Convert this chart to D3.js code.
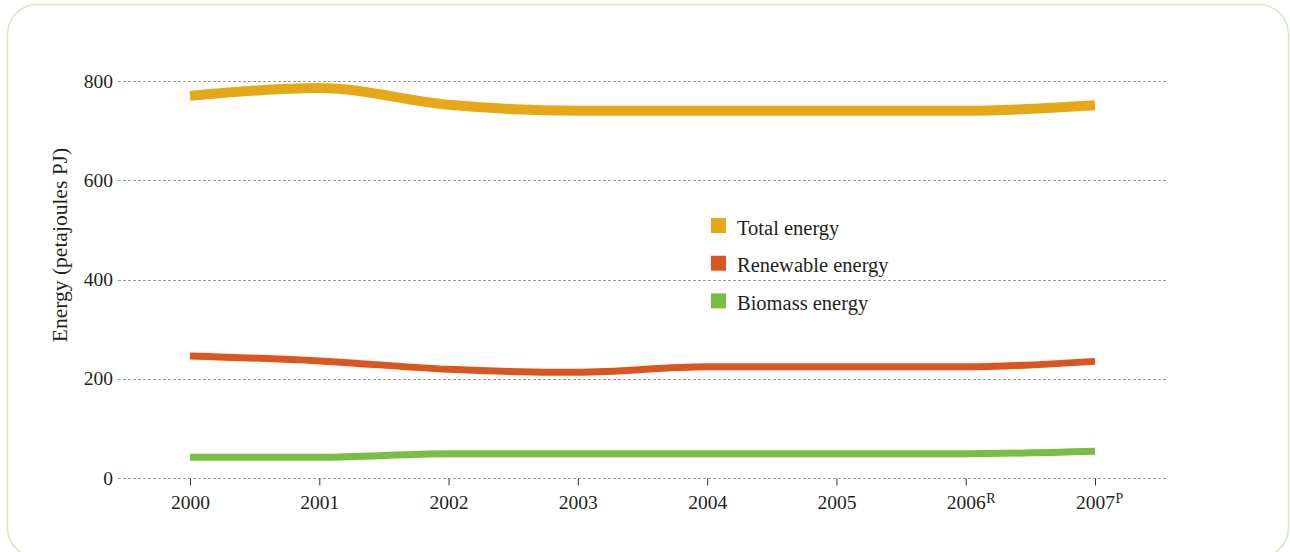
<!DOCTYPE html>
<html>
<head>
<meta charset="utf-8">
<script src="https://cdn.jsdelivr.net/npm/d3@7"></script>
<style>
  html, body { margin: 0; padding: 0; background: #fff; }
  svg { display: block; }
</style>
</head>
<body>
<svg id="d3-canvas" width="1290" height="552"></svg>
<script>
// Energy supply series, petajoules
const years = [2000, 2001, 2002, 2003, 2004, 2005, 2006, 2007];
const yearSuffix = ["", "", "", "", "", "", "R", "P"];
const totalEnergy = [770, 786, 752, 740, 740, 740, 740, 751];
const renewableEnergy = [246, 236, 219, 213, 224, 224, 224, 235];
const biomassEnergy = [42, 42, 49, 49, 49, 49, 49, 54];
const yTicks = [0, 200, 400, 600, 800];
const seriesNames = ["Total energy", "Renewable energy", "Biomass energy"];

const colors = ["#e6a817", "#da5520", "#78be43"];
const widths = [10, 7, 7];
const font = "'Liberation Serif', 'DejaVu Serif', serif";
const ink = "#231f20";

const svg = d3.select("#d3-canvas");

// rounded frame
svg.append("rect")
    .attr("x", 7.5)
    .attr("y", 4.5)
    .attr("width", 1281)
    .attr("height", 553)
    .attr("rx", 30)
    .attr("fill", "none")
    .attr("stroke", "#d3e9c2")
    .attr("stroke-width", 1.5);

const x = d3.scaleLinear().domain([2000, 2007]).range([190, 1095]);
const y = d3.scaleLinear().domain([0, 800]).range([478, 81]);

// gridlines
svg.append("g")
    .selectAll("line")
    .data(yTicks)
    .join("line")
    .attr("x1", 118)
    .attr("x2", 1166)
    .attr("y1", d => Math.round(y(d)) + 0.5)
    .attr("y2", d => Math.round(y(d)) + 0.5)
    .attr("stroke", "#9a9a9a")
    .attr("stroke-width", 1)
    .attr("stroke-dasharray", "3,2");

// y tick labels
svg.append("g")
    .selectAll("text")
    .data(yTicks)
    .join("text")
    .attr("x", 113)
    .attr("y", d => y(d))
    .attr("dy", "0.34em")
    .attr("text-anchor", "end")
    .attr("font-family", font)
    .attr("font-size", 19.5)
    .attr("fill", ink)
    .text(d => d);

// x axis ticks + labels
const xAxis = svg.append("g")
    .attr("transform", `translate(0,${Math.round(y(0)) + 0.5})`)
    .call(d3.axisBottom(x).tickValues(years).tickFormat(d3.format("d")).tickSize(7).tickPadding(10));
xAxis.select(".domain").remove();
xAxis.selectAll(".tick line").attr("stroke", "#333").attr("stroke-width", 1);
xAxis.selectAll(".tick text")
    .attr("font-family", font)
    .attr("font-size", 19.5)
    .attr("fill", ink);
xAxis.selectAll(".tick").each(function(d, i) {
    const sup = yearSuffix[i];
    if (!sup) return;
    const t = d3.select(this).select("text");
    const w = t.node().getComputedTextLength();
    d3.select(this).append("text")
        .attr("x", w / 2 + 0.5)
        .attr("y", 24)
        .attr("font-family", font)
        .attr("font-size", 14)
        .attr("fill", ink)
        .attr("text-anchor", "start")
        .text(sup);
});

// y axis title
svg.append("text")
    .attr("transform", "translate(67,245) rotate(-90)")
    .attr("text-anchor", "middle")
    .attr("font-family", font)
    .attr("font-size", 21.5)
    .attr("fill", ink)
    .text("Energy (petajoules PJ)");

// lines
const line = d3.line()
    .x((d, i) => x(years[i]))
    .y(d => y(d))
    .curve(d3.curveMonotoneX);

[totalEnergy, renewableEnergy, biomassEnergy].forEach((s, k) => {
    svg.append("path")
        .attr("d", line(s))
        .attr("fill", "none")
        .attr("stroke", colors[k])
        .attr("stroke-width", widths[k])
        .attr("stroke-linejoin", "round")
        .attr("stroke-linecap", "butt");
});

// legend
const legend = svg.append("g").attr("transform", "translate(711,218)");
seriesNames.forEach((name, i) => {
    legend.append("rect")
        .attr("x", 0)
        .attr("y", i * 37.7)
        .attr("width", 15)
        .attr("height", 15)
        .attr("fill", colors[i]);
    legend.append("text")
        .attr("x", 26)
        .attr("y", i * 37.7 + 16.5)
        .attr("font-family", font)
        .attr("font-size", 20.5)
        .attr("fill", ink)
        .text(name);
});
</script>
</body>
</html>
